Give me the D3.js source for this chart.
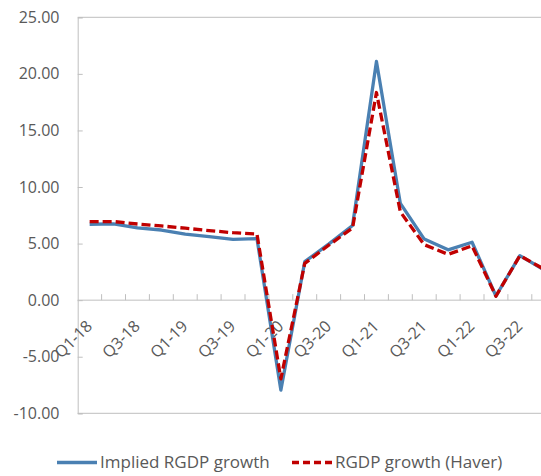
<!DOCTYPE html>
<html>
<head>
<meta charset="utf-8">
<script src="https://cdn.jsdelivr.net/npm/d3@7"></script>
<style>
  html, body { margin: 0; padding: 0; background: #fff; overflow: hidden; }
  svg { display: block; font-family: "Open Sans", "Noto Sans", sans-serif; }
</style>
</head>
<body>
<svg id="chart" width="541" height="476"></svg>
<script>
// Quarterly labels
const quarters = [
  "Q1-18","Q2-18","Q3-18","Q4-18",
  "Q1-19","Q2-19","Q3-19","Q4-19",
  "Q1-20","Q2-20","Q3-20","Q4-20",
  "Q1-21","Q2-21","Q3-21","Q4-21",
  "Q1-22","Q2-22","Q3-22","Q4-22"
];
// Implied real GDP growth (%)
const impliedGrowth = [6.71, 6.74, 6.38, 6.2, 5.84, 5.62, 5.37, 5.45, -7.95, 3.4, 4.95, 6.6, 21.1, 8.55, 5.4, 4.45, 5.12, 0.37, 3.93, 2.7];
// Reported real GDP growth, Haver (%)
const haverGrowth = [6.94, 6.95, 6.73, 6.56, 6.36, 6.15, 5.96, 5.85, -6.95, 3.25, 4.85, 6.38, 18.35, 7.8, 4.9, 4.05, 4.8, 0.35, 3.93, 2.75];
// Value axis ticks
const yTicks = [-10, -5, 0, 5, 10, 15, 20, 25];
// Every other quarter is labelled
const labelledQuarters = quarters.filter((q, i) => i % 2 === 0);

const seriesList = [
  { name: "Implied RGDP growth", values: impliedGrowth, color: "#4a80b2", dash: null },
  { name: "RGDP growth (Haver)", values: haverGrowth, color: "#c00000", dash: "9,4" }
];

const svg = d3.select("#chart");
const plotLeft = 77.7, plotTop = 17.3, plotBottom = 413.3;
const band = 23.9;
const plotRight = plotLeft + band * quarters.length;

const x = d3.scaleBand().domain(quarters).range([plotLeft, plotRight]).padding(0);
const y = d3.scaleLinear().domain([-10, 25]).range([plotBottom, plotTop]);
const cx = q => x(q) + x.bandwidth() / 2;

const gridColor = "#bfbfbf";
const textColor = "#595959";

// Plot frame (top and bottom edges)
svg.append("line").attr("x1", plotLeft).attr("x2", plotRight).attr("y1", y(25)).attr("y2", y(25))
  .attr("stroke", gridColor).attr("stroke-width", 1);
svg.append("line").attr("x1", plotLeft).attr("x2", plotRight).attr("y1", y(-10)).attr("y2", y(-10))
  .attr("stroke", gridColor).attr("stroke-width", 1);

// Value axis
const yAxis = d3.axisRight(y).tickValues(yTicks).tickSize(5).tickFormat(() => "");
const gy = svg.append("g").attr("transform", `translate(${plotLeft},0)`).call(yAxis);
gy.select(".domain").attr("stroke", gridColor);
gy.selectAll(".tick line").attr("stroke", gridColor);

svg.append("g").selectAll("text").data(yTicks).join("text")
  .attr("x", 59.5).attr("y", d => y(d)).attr("dy", "0.35em")
  .attr("text-anchor", "end").attr("fill", textColor).attr("font-size", 16)
  .text(d => d.toFixed(2));

// Category axis along zero, with tick marks between quarters
const gx = svg.append("g").attr("transform", `translate(0,${y(0)})`);
gx.append("line").attr("x1", plotLeft).attr("x2", plotRight).attr("stroke", gridColor);
gx.selectAll("line.tk").data(quarters).join("line").attr("class", "tk")
  .attr("x1", d => x(d) + band).attr("x2", d => x(d) + band)
  .attr("y1", 0).attr("y2", -6).attr("stroke", gridColor);

gx.selectAll("text").data(labelledQuarters).join("text")
  .attr("transform", d => `translate(${cx(d) + 3.5},27) rotate(-45)`)
  .attr("text-anchor", "end").attr("fill", textColor).attr("font-size", 16)
  .text(d => d);

// Series lines
const line = d3.line().x((d, i) => cx(quarters[i])).y(d => y(d));
seriesList.forEach(s => {
  svg.append("path").datum(s.values)
    .attr("d", line).attr("fill", "none")
    .attr("stroke", s.color).attr("stroke-width", 3.3)
    .attr("stroke-linejoin", "round")
    .attr("stroke-dasharray", s.dash);
});

// Legend
const legendItems = [
  { s: seriesList[0], x0: 57, x1: 97, tx: 100 },
  { s: seriesList[1], x0: 292, x1: 332, tx: 335 }
];
const lg = svg.append("g");
legendItems.forEach(it => {
  lg.append("line").attr("x1", it.x0).attr("x2", it.x1).attr("y1", 462.5).attr("y2", 462.5)
    .attr("stroke", it.s.color).attr("stroke-width", 3.3)
    .attr("stroke-dasharray", it.s.dash ? "7,4" : null);
  lg.append("text").attr("x", it.tx).attr("y", 468)
    .attr("fill", textColor).attr("font-size", 17).text(it.s.name);
});
</script>
</body>
</html>
